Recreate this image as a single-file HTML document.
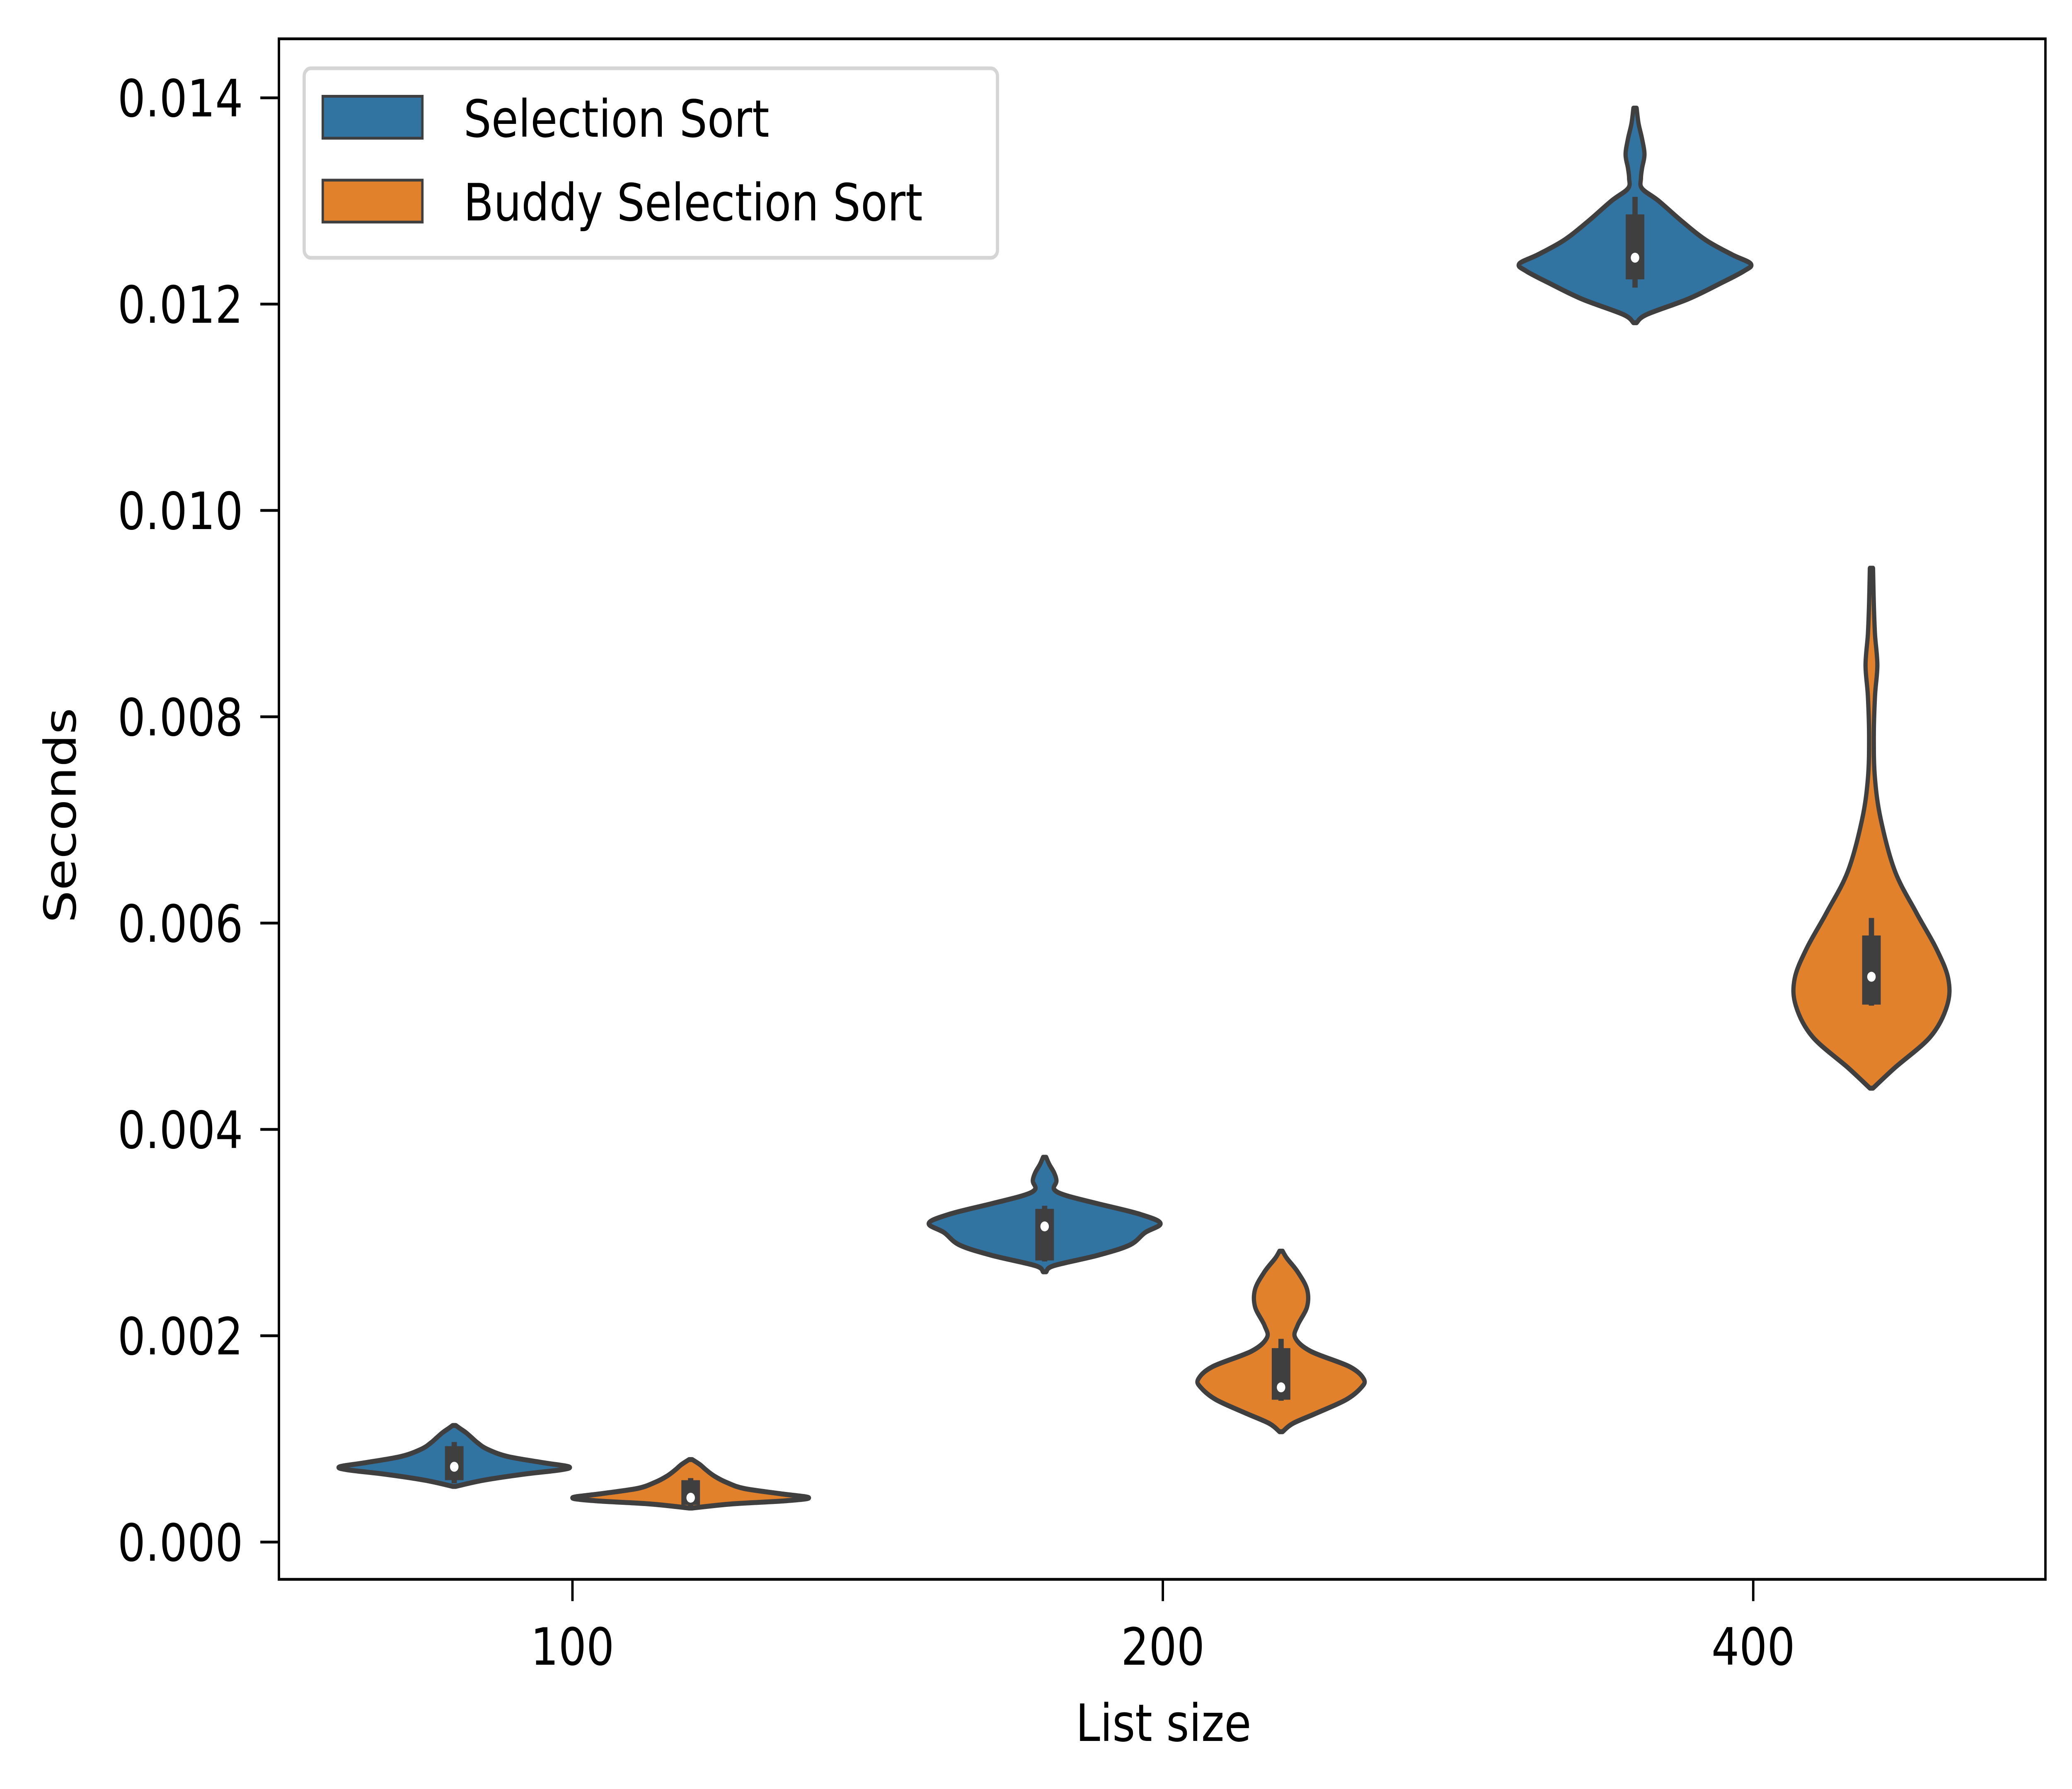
<!DOCTYPE html>
<html><head><meta charset="utf-8"><style>html,body{margin:0;padding:0;background:#fff;width:100%;height:100%;overflow:hidden}svg{display:block;width:100vw;height:100vh}</style></head>
<body>
<svg id="chart" viewBox="0 0 1560 1152" preserveAspectRatio="none" xmlns="http://www.w3.org/2000/svg" font-family="DejaVu Sans, Liberation Sans, sans-serif">
<rect width="1560" height="1152" fill="#fff"/>
<g id="plot"></g>
<rect x="210" y="25" width="1330" height="992" fill="none" stroke="#000" stroke-width="1.8"/>
<g id="axes"></g>
<text transform="translate(57,525) rotate(-90)" text-anchor="middle" font-size="33">Seconds</text>
<text x="876" y="1121" text-anchor="middle" font-size="33">List size</text>
<g>
<rect x="229" y="44" width="522" height="122" rx="5" fill="#fff" stroke="#d5d5d5" stroke-width="2.4"/>
<rect x="243" y="62" width="75" height="27" fill="#3274a1" stroke="#3f3f3f" stroke-width="1.8"/>
<text x="349" y="88" font-size="33">Selection Sort</text>
<rect x="243" y="116" width="75" height="27" fill="#e1812c" stroke="#3f3f3f" stroke-width="1.8"/>
<text x="349" y="142" font-size="33">Buddy Selection Sort</text>
</g>
</svg>
<script>
const categories = ["100", "200", "400"];
const yTicks = [0, 0.002, 0.004, 0.006, 0.008, 0.010, 0.012, 0.014];
const yTickLabels = ["0.000","0.002","0.004","0.006","0.008","0.010","0.012","0.014"];
const seriesNames = ["Selection Sort", "Buddy Selection Sort"];
const sel100Vals = [0.00054,0.00060,0.00066,0.00070,0.00073,0.00077,0.00083,0.00090,0.00096,0.00101,0.00106,0.00110,0.00113];
const sel100W    = [0.0,0.25,0.6,0.9,0.97,0.75,0.45,0.28,0.2,0.15,0.1,0.05,0.0];
const bud100Vals = [0.00033,0.00037,0.00040,0.00043,0.00047,0.00052,0.00058,0.00064,0.00070,0.00075,0.00080];
const bud100W    = [0.0,0.35,0.8,1.0,0.75,0.45,0.3,0.2,0.13,0.08,0.0];
const sel200Vals = [0.00262,0.00268,0.00278,0.00288,0.00300,0.00309,0.00318,0.00328,0.00336,0.00342,0.00350,0.00358,0.00366,0.00373];
const sel200W    = [0.0,0.08,0.45,0.72,0.85,0.98,0.8,0.45,0.18,0.08,0.1,0.08,0.04,0.0];
const bud200Vals = [0.00107,0.00115,0.00125,0.00138,0.00150,0.00158,0.00170,0.00185,0.00198,0.00210,0.00228,0.00245,0.00262,0.00275,0.00282];
const bud200W    = [0.0,0.1,0.3,0.55,0.68,0.7,0.58,0.25,0.12,0.14,0.22,0.22,0.14,0.05,0.0];
const sel400Vals = [0.01182,0.01190,0.01205,0.01220,0.01232,0.01239,0.01248,0.01262,0.01280,0.01300,0.01312,0.01322,0.01332,0.01345,0.01360,0.01375,0.01390];
const sel400W    = [0.0,0.1,0.45,0.72,0.92,0.98,0.82,0.6,0.4,0.2,0.06,0.05,0.06,0.08,0.06,0.03,0.0];
const bud400Vals = [0.00440,0.00460,0.00490,0.00520,0.00546,0.00575,0.00610,0.00650,0.00700,0.00740,0.00780,0.00820,0.00850,0.00880,0.00910,0.00944];
const bud400W    = [0.0,0.2,0.5,0.64,0.65,0.55,0.38,0.2,0.08,0.03,0.02,0.03,0.05,0.03,0.02,0.0];
const sel100Box = [0.00057,0.00060,0.00073,0.00093,0.00097];
const bud100Box = [0.00035,0.00036,0.00043,0.00060,0.00062];
const sel200Box = [0.00272,0.00273,0.00306,0.00323,0.00326];
const bud200Box = [0.00137,0.00138,0.00150,0.00188,0.00197];
const sel400Box = [0.01216,0.01224,0.01245,0.01287,0.01304];
const bud400Box = [0.00520,0.00521,0.00548,0.00588,0.00605];

const violins = [
 {cat:0,s:0,v:sel100Vals,w:sel100W,b:sel100Box},
 {cat:0,s:1,v:bud100Vals,w:bud100W,b:bud100Box},
 {cat:1,s:0,v:sel200Vals,w:sel200W,b:sel200Box},
 {cat:1,s:1,v:bud200Vals,w:bud200W,b:bud200Box},
 {cat:2,s:0,v:sel400Vals,w:sel400W,b:sel400Box},
 {cat:2,s:1,v:bud400Vals,w:bud400W,b:bud400Box}
];
const colors = ["#3274a1","#e1812c"];
const NS = "http://www.w3.org/2000/svg";
const X0 = 431, XSTEP = 444.5, Y0 = 993, YPER = 66430;
function xScale(i){ return X0 + i*XSTEP; }
function yScale(v){ return Y0 - v*YPER; }
const HALF = 89;

function smooth(pts){
  let d = "M" + pts[0][0].toFixed(2) + "," + pts[0][1].toFixed(2);
  for (let i=0;i<pts.length-1;i++){
    const p0=pts[Math.max(0,i-1)],p1=pts[i],p2=pts[i+1],p3=pts[Math.min(pts.length-1,i+2)];
    const c1=[p1[0]+(p2[0]-p0[0])/6,p1[1]+(p2[1]-p0[1])/6];
    const c2=[p2[0]-(p3[0]-p1[0])/6,p2[1]-(p3[1]-p1[1])/6];
    d += "C"+c1[0].toFixed(2)+","+c1[1].toFixed(2)+" "+c2[0].toFixed(2)+","+c2[1].toFixed(2)+" "+p2[0].toFixed(2)+","+p2[1].toFixed(2);
  }
  return d;
}
const plot = document.getElementById("plot");
violins.forEach((vn) => {
  const cx = xScale(vn.cat) + (vn.s===0 ? -HALF : HALF);
  const right = vn.v.map((v,i)=>[cx + Math.max(vn.w[i]*HALF,1.2), yScale(v)]);
  const left = vn.v.map((v,i)=>[cx - Math.max(vn.w[i]*HALF,1.2), yScale(v)]).reverse();
  const g = document.createElementNS(NS,"g");
  
  
  const p = document.createElementNS(NS,"path");
  
  
  p.setAttribute("d", smooth(right) + smooth(left).replace("M","L") + "Z");
  p.setAttribute("fill", colors[vn.s]);
  p.setAttribute("stroke", "#3f3f3f");
  p.setAttribute("stroke-width", "3.2");
  p.setAttribute("stroke-linejoin", "round");
  g.appendChild(p);
  const wh = document.createElementNS(NS,"line");
  
  
  wh.setAttribute("x1",cx); wh.setAttribute("x2",cx);
  wh.setAttribute("y1",yScale(vn.b[0])); wh.setAttribute("y2",yScale(vn.b[4]));
  wh.setAttribute("stroke","#3f3f3f"); wh.setAttribute("stroke-width","4");
  g.appendChild(wh);
  const bx = document.createElementNS(NS,"rect");
  
  
  bx.setAttribute("x",cx-7); bx.setAttribute("width",14);
  bx.setAttribute("y",yScale(vn.b[3])); bx.setAttribute("height",yScale(vn.b[1])-yScale(vn.b[3]));
  bx.setAttribute("fill","#3f3f3f");
  g.appendChild(bx);
  const md = document.createElementNS(NS,"circle");
  
  
  md.setAttribute("cx",cx); md.setAttribute("cy",yScale(vn.b[2])); md.setAttribute("r",3.2);
  md.setAttribute("fill","#fff");
  g.appendChild(md);
  plot.appendChild(g);
});
const axes = document.getElementById("axes");
yTicks.forEach((t,i)=>{
  const y = yScale(t);
  const l = document.createElementNS(NS,"line");
  
  
  l.setAttribute("x1",196); l.setAttribute("x2",210); l.setAttribute("y1",y); l.setAttribute("y2",y);
  l.setAttribute("stroke","#000"); l.setAttribute("stroke-width","1.8");
  axes.appendChild(l);
  const tx = document.createElementNS(NS,"text");
  
  
  tx.setAttribute("x",183); tx.setAttribute("y",y+12); tx.setAttribute("text-anchor","end"); tx.setAttribute("font-size","33");
  tx.textContent = yTickLabels[i];
  axes.appendChild(tx);
});
categories.forEach((c,i)=>{
  const x = xScale(i);
  const l = document.createElementNS(NS,"line");
  
  
  l.setAttribute("x1",x); l.setAttribute("x2",x); l.setAttribute("y1",1017); l.setAttribute("y2",1031);
  l.setAttribute("stroke","#000"); l.setAttribute("stroke-width","1.8");
  axes.appendChild(l);
  const tx = document.createElementNS(NS,"text");
  
  
  tx.setAttribute("x",x); tx.setAttribute("y",1072); tx.setAttribute("text-anchor","middle"); tx.setAttribute("font-size","33");
  tx.textContent = c;
  axes.appendChild(tx);
});
</script>
</body></html>
